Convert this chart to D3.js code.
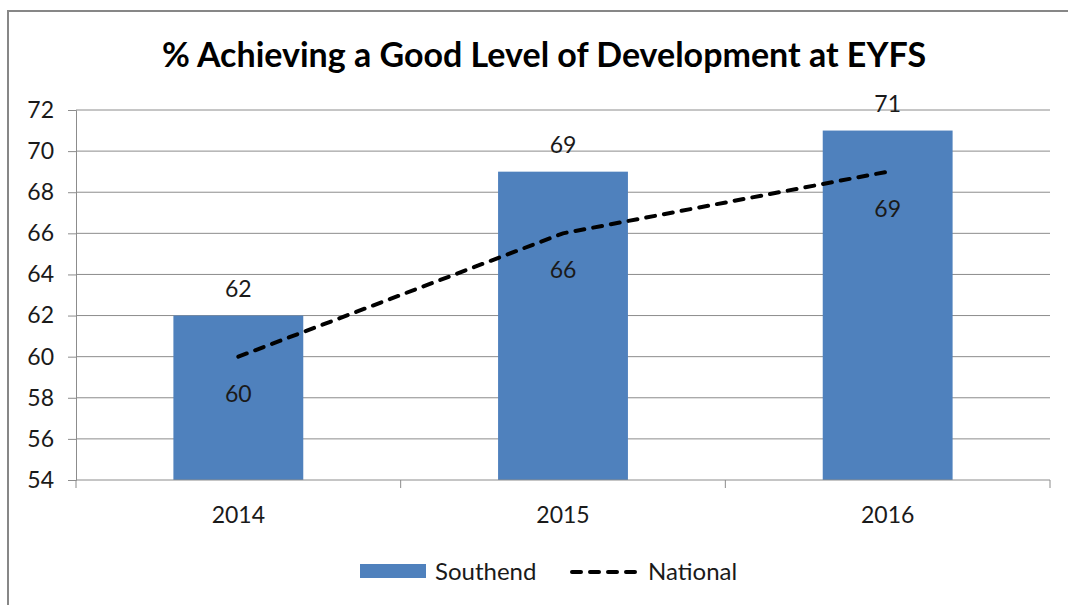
<!DOCTYPE html>
<html>
<head>
<meta charset="utf-8">
<script src="https://cdnjs.cloudflare.com/ajax/libs/d3/7.8.5/d3.min.js"></script>
<style>
  html, body { margin: 0; padding: 0; background: #fff; }
  svg { display: block; font-family: Lato, "Open Sans", "Liberation Sans", sans-serif; }
</style>
</head>
<body>
<svg id="chart" width="1068" height="605"></svg>
<script>
const years = ["2014", "2015", "2016"];
const southend = [62, 69, 71];
const national = [60, 66, 69];
const yTicks = [54, 56, 58, 60, 62, 64, 66, 68, 70, 72];
const chartTitle = "% Achieving a Good Level of Development at EYFS";
const seriesNames = ["Southend", "National"];

const svg = d3.select("#chart");
const W = 1068, H = 605;
const m = { left: 76, right: 1050, top: 110, bottom: 480 };
const labelSize = 23;
const textColor = "#1a1a1a";
const gridColor = "#8c8c8c";

// chart frame
svg.append("rect").attr("x", 8).attr("y", 11).attr("width", W + 10).attr("height", H + 10)
  .attr("fill", "#fff").attr("stroke", "#878787").attr("stroke-width", 2);

svg.append("text").attr("x", 544).attr("y", 67).attr("text-anchor", "middle")
  .attr("font-size", 34).attr("font-weight", 700).attr("fill", "#000").text(chartTitle);

const x = d3.scaleBand().domain(years).range([m.left, m.right]).paddingInner(0).paddingOuter(0);
const y = d3.scaleLinear().domain([54, 72]).range([m.bottom, m.top]);
const barW = x.bandwidth() * 0.4;

// gridlines
svg.append("g").selectAll("line").data(yTicks.filter(d => d !== 54)).join("line")
  .attr("x1", m.left).attr("x2", m.right).attr("y1", d => y(d)).attr("y2", d => y(d))
  .attr("stroke", gridColor).attr("stroke-width", 1);

// y axis
const yAxis = svg.append("g").attr("transform", `translate(${m.left},0)`)
  .call(d3.axisLeft(y).tickValues(yTicks).tickSize(8).tickPadding(14).tickFormat(d3.format("d")));
yAxis.select(".domain").attr("stroke", gridColor);
yAxis.selectAll(".tick line").attr("stroke", gridColor);
yAxis.selectAll(".tick text").attr("font-size", labelSize).attr("fill", textColor)
  .attr("font-family", "Lato, 'Open Sans', sans-serif");

// bars
svg.append("g").selectAll("rect").data(years).join("rect")
  .attr("x", d => x(d) + (x.bandwidth() - barW) / 2)
  .attr("y", (d, i) => y(southend[i]))
  .attr("width", barW)
  .attr("height", (d, i) => y(54) - y(southend[i]))
  .attr("fill", "#4f81bd");

// x axis
const xAxis = svg.append("g").attr("transform", `translate(0,${m.bottom})`)
  .call(d3.axisBottom(x).tickSize(0));
xAxis.select(".domain").remove();
xAxis.selectAll(".tick text").attr("y", 43).attr("dy", 0)
  .attr("font-size", labelSize).attr("fill", textColor)
  .attr("font-family", "Lato, 'Open Sans', sans-serif");
svg.append("line").attr("x1", m.left).attr("x2", m.right).attr("y1", m.bottom).attr("y2", m.bottom)
  .attr("stroke", gridColor);
svg.append("g").selectAll("line").data(years.concat(["end"])).join("line")
  .attr("x1", (d, i) => m.left + i * x.bandwidth()).attr("x2", (d, i) => m.left + i * x.bandwidth())
  .attr("y1", m.bottom).attr("y2", m.bottom + 8).attr("stroke", gridColor);

// national line
const line = d3.line().x((d, i) => x(years[i]) + x.bandwidth() / 2).y(d => y(d));
svg.append("path").datum(national).attr("d", line)
  .attr("fill", "none").attr("stroke", "#000").attr("stroke-width", 4)
  .attr("stroke-dasharray", "9,9").attr("stroke-linecap", "round");

// value labels
svg.append("g").selectAll("text").data(southend).join("text")
  .attr("x", (d, i) => x(years[i]) + x.bandwidth() / 2)
  .attr("y", d => y(d) - 19).attr("text-anchor", "middle")
  .attr("font-size", labelSize).attr("fill", textColor).text(d => d);
svg.append("g").selectAll("text").data(national).join("text")
  .attr("x", (d, i) => x(years[i]) + x.bandwidth() / 2)
  .attr("y", d => y(d) + 45).attr("text-anchor", "middle")
  .attr("font-size", labelSize).attr("fill", textColor).text(d => d);

// legend
const lg = svg.append("g");
lg.append("rect").attr("x", 360).attr("y", 564).attr("width", 66).attr("height", 14).attr("fill", "#4f81bd");
lg.append("text").attr("x", 435).attr("y", 580).attr("font-size", 24).attr("fill", textColor).text(seriesNames[0]);
lg.append("line").attr("x1", 572).attr("x2", 640).attr("y1", 572).attr("y2", 572)
  .attr("stroke", "#000").attr("stroke-width", 4).attr("stroke-dasharray", "9,9").attr("stroke-linecap", "round");
lg.append("text").attr("x", 648).attr("y", 580).attr("font-size", 24).attr("fill", textColor).text(seriesNames[1]);
</script>
</body>
</html>
